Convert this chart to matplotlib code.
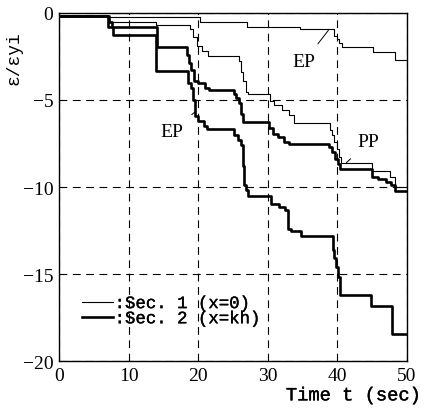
import matplotlib
matplotlib.use('Agg')
import matplotlib.pyplot as plt
import matplotlib.patheffects as pe

# ---- data ----
# Sec.1 (x=0), EP case (thin)
a_t = [0, 7.0, 20.3, 27.0, 34.6, 39.5, 39.9, 40.2, 40.6, 45.1, 48.3, 50]
a_v = [-0.2, -0.25, -0.5, -0.82, -0.92, -1.3, -1.5, -1.7, -1.97, -2.26, -2.7, -2.7]

# Sec.1 (x=0), PP case (thin)
b_t = [0, 7.2, 14.0, 18.8, 19.3, 19.8, 20.6, 21.4, 25.8, 26.2, 26.5, 26.8, 27.1,
       30.3, 30.9, 32.0, 33.0, 33.7, 38.9, 39.2, 39.5, 39.9, 40.2, 40.5, 44.9,
       47.6, 48.3, 50]
b_v = [-0.2, -0.52, -0.68, -0.92, -1.4, -1.88, -2.2, -2.5, -2.75, -3.4, -3.9, -4.56, -4.66,
       -5.04, -5.3, -5.55, -5.85, -6.3, -6.7, -7.0, -7.4, -7.8, -8.3, -8.6, -9.06,
       -9.43, -10.0, -10.0]

# Sec.2 (x=kh), PP case (thick)
c_t = [0, 7.2, 7.6, 14.1, 18.4, 18.7, 19.0, 19.4, 20.0, 21.0, 21.5, 25.1, 25.5,
       25.8, 26.1, 26.5, 30.2, 30.7, 31.5, 32.3, 33.0, 38.8, 39.2, 39.6, 40.1,
       40.4, 45.0, 45.8, 47.0, 47.7, 48.3, 50]
c_v = [-0.2, -0.5, -0.78, -1.97, -2.4, -2.9, -3.3, -3.9, -4.05, -4.3, -4.43, -4.66, -4.9,
       -5.2, -5.8, -6.28, -6.6, -6.95, -7.15, -7.4, -7.52, -7.7, -8.0, -8.4, -8.7,
       -8.97, -9.43, -9.55, -9.7, -9.9, -10.25, -10.25]

# Sec.2 (x=kh), EP case (thick)
d_t = [0, 7.1, 7.8, 14.0, 18.6, 19.0, 19.3, 19.6, 19.9, 20.8, 21.3, 25.2, 25.7,
       26.2, 26.4, 26.6, 26.9, 27.2, 30.5, 31.6, 32.5, 32.9, 33.3, 34.8, 39.3,
       39.5, 39.8, 40.1, 40.4, 44.8, 47.9, 50]
d_v = [-0.2, -0.8, -1.28, -3.35, -4.0, -4.3, -5.0, -5.9, -6.2, -6.5, -6.67, -7.0, -7.3,
       -7.6, -8.8, -9.9, -10.2, -10.53, -10.98, -11.15, -11.3, -12.4, -12.5, -12.8, -13.6,
       -14.1, -14.6, -15.2, -16.2, -16.86, -18.45, -18.45]

x_ticks = [0, 10, 20, 30, 40, 50]
y_ticks = [0, -5, -10, -15, -20]
legend_labels = [':Sec. 1 (x=0)', ':Sec. 2 (x=kh)']

SERIF = ['Liberation Serif', 'DejaVu Serif']
MONO = ['Liberation Mono', 'DejaVu Sans Mono']
heavy = [pe.withStroke(linewidth=0.25, foreground='black')]

fig = plt.figure(figsize=(4.26, 4.10), dpi=100)
ax = fig.add_axes([0.1385, 0.117, 0.8169, 0.8489])

thin = 0.8
thick = 1.9
l1, = ax.plot(a_t, a_v, drawstyle='steps-post', color='black', lw=thin)
ax.plot(b_t, b_v, drawstyle='steps-post', color='black', lw=thin)
ax.plot(c_t, c_v, drawstyle='steps-post', color='black', lw=thick)
l2, = ax.plot(d_t, d_v, drawstyle='steps-post', color='black', lw=thick)

ax.set_xlim(0, 50)
ax.set_ylim(-20, 0)
ax.set_xticks(x_ticks)
ax.set_yticks(y_ticks)
ax.set_xticklabels([str(v) for v in x_ticks], fontfamily=SERIF, fontsize=14)
ax.set_yticklabels([str(v).replace('-', '\u2212') for v in y_ticks], fontfamily=SERIF, fontsize=14)
ax.tick_params(length=0, pad=4)

ax.grid(True, color='black', lw=0.8, linestyle=(0, (7, 5)))
for s in ax.spines.values():
    s.set_linewidth(1.0)
    s.set_color('black')

leg = ax.legend([l1, l2], legend_labels, loc='lower left', bbox_to_anchor=(0.025, 0.06),
                frameon=False, handlelength=1.8, handletextpad=0.1, labelspacing=0.0,
                borderpad=0.3, prop={'family': MONO, 'size': 12.5})
for t in leg.get_texts():
    t.set_path_effects(heavy)

# annotations
ann_font = dict(fontfamily=SERIF, fontsize=14)
ax.annotate('EP', xy=(38.7, -1.0), xytext=(35.2, -2.8), ha='center', va='center',
            arrowprops=dict(arrowstyle='-', lw=0.7, color='black', shrinkA=6, shrinkB=0), **ann_font)
ax.annotate('EP', xy=(19.5, -5.7), xytext=(16.2, -6.8), ha='center', va='center',
            arrowprops=dict(arrowstyle='-', lw=0.7, color='black', shrinkA=6, shrinkB=0), **ann_font)
ax.annotate('PP', xy=(41.3, -8.6), xytext=(44.5, -7.4), ha='center', va='center',
            arrowprops=dict(arrowstyle='-', lw=0.7, color='black', shrinkA=6, shrinkB=0), **ann_font)

ax.text(-0.128, 0.874, '\u03b5/\u03b5yi', rotation=90, transform=ax.transAxes,
        ha='center', va='center', fontfamily=MONO, fontsize=13)
fig.text(0.988, 0.032, 'Time t (sec)', ha='right', va='center', fontfamily=MONO,
         fontsize=13.5, path_effects=heavy)

fig.savefig('out.png', dpi=100)
